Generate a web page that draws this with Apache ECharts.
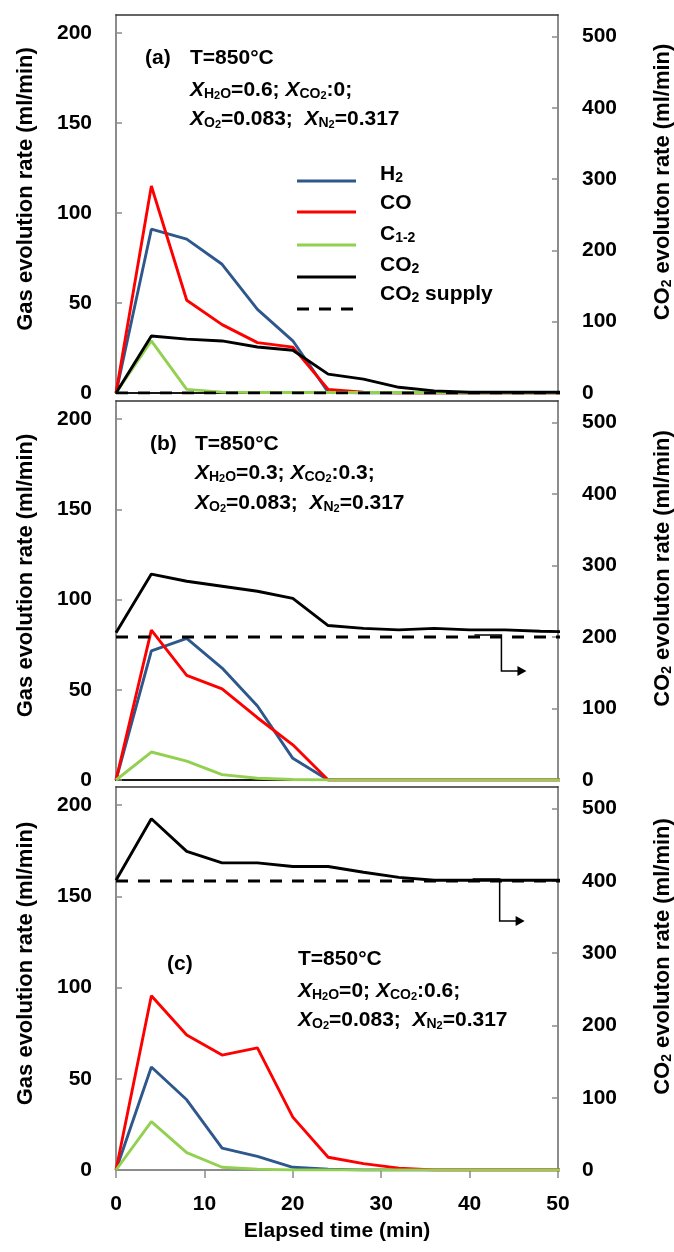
<!DOCTYPE html>
<html><head><meta charset="utf-8">
<script src="https://cdn.jsdelivr.net/npm/echarts@6/dist/echarts.min.js"></script>
<style>html,body{margin:0;padding:0;background:#fff}#c{width:674px;height:1252px}</style>
</head><body><div id="c"></div>
<script>
// ---- data ----
const time = [0, 4, 8, 12, 16, 20, 24, 28, 32, 36, 40, 44, 48, 52];
const xTickLabels = [0, 10, 20, 30, 40, 50];
const seriesNames = ['H2', 'CO', 'C1-2', 'CO2', 'CO2 supply'];

// panel (a)  XH2O=0.6; XCO2=0
const h2A   = [0, 91, 85.5, 71.5, 46.5, 29, 0.5, 0, 0, 0, 0, 0, 0, 0];
const coA   = [0, 115, 51.5, 38, 28, 25.5, 2, 0.5, 0, 0, 0, 0, 0, 0];
const c12A  = [0, 29, 2, 0.5, 0.3, 0.3, 0.3, 0.3, 0.3, 0.3, 0, 0, 0, 0];
const co2A  = [0, 80, 75.5, 73, 64.5, 60, 26.5, 19.5, 8, 3, 1, 1, 1, 1];
const supA  = [0, 0, 0, 0, 0, 0, 0, 0, 0, 0, 0, 0, 0, 0];

// panel (b)  XH2O=0.3; XCO2=0.3
const h2B   = [0, 71.5, 78.5, 62, 41, 12, 0, 0, 0, 0, 0, 0, 0, 0];
const coB   = [0, 83, 58, 50.5, 34.5, 19.5, 0, 0, 0, 0, 0, 0, 0, 0];
const c12B  = [0, 15.5, 10.5, 3, 1, 0.3, 0, 0, 0, 0, 0, 0, 0, 0];
const co2B  = [206, 288, 278, 271, 264, 254, 216, 212, 210, 212, 210, 210, 208, 207];
const supB  = [200, 200, 200, 200, 200, 200, 200, 200, 200, 200, 200, 200, 200, 200];

// panel (c)  XH2O=0; XCO2=0.6
const h2C   = [0, 56.5, 38.5, 12, 7.5, 1.5, 0.5, 0, 0, 0, 0, 0, 0, 0];
const coC   = [0, 95.5, 74, 63, 67, 29, 7, 3.5, 1, 0, 0, 0, 0, 0];
const c12C  = [0, 26.5, 9.5, 1.5, 0.5, 0, 0, 0, 0, 0, 0, 0, 0, 0];
const co2C  = [401, 486, 441, 425, 425, 420, 420, 412, 405, 401, 401, 401, 401, 401];
const supC  = [400, 400, 400, 400, 400, 400, 400, 400, 400, 400, 400, 400, 400, 400];

// ---- styling ----
const F = 'Liberation Sans, Arial, sans-serif';
const COL = {'H2': '#2E578C', 'CO': '#FF0000', 'C1-2': '#92D050', 'CO2': '#000000', 'CO2 supply': '#000000'};
const DASH = [12, 10];
const GREY = '#8C8C8C';
const rich = {
  b: {fontFamily: F, fontSize: 21, fontWeight: 'bold', color: '#000', lineHeight: 26, verticalAlign: 'bottom'},
  i: {fontFamily: F, fontSize: 21, fontWeight: 'bold', fontStyle: 'italic', color: '#000', lineHeight: 26, verticalAlign: 'bottom'},
  s: {fontFamily: F, fontSize: 14, fontWeight: 'bold', color: '#000', lineHeight: 18, verticalAlign: 'bottom'},
  t: {fontFamily: F, fontSize: 11, fontWeight: 'bold', color: '#000', lineHeight: 15, verticalAlign: 'bottom'}
};
const legendText = {
  'H2': '{b|H}{s|2}', 'CO': '{b|CO}', 'C1-2': '{b|C}{s|1-2}', 'CO2': '{b|CO}{s|2}', 'CO2 supply': '{b|CO}{s|2}{b| supply}'
};

const panels = [
  {top: 15, height: 378, data: [h2A, coA, c12A, co2A, supA], xLine: '#1a1a1a'},
  {top: 401, height: 379, data: [h2B, coB, c12B, co2B, supB], xLine: '#1a1a1a'},
  {top: 787, height: 383, data: [h2C, coC, c12C, co2C, supC], xLine: GREY}
];

const grids = [], xAxes = [], yAxes = [], series = [];
panels.forEach((p, k) => {
  grids.push({left: 116, right: 116, top: p.top, height: p.height, outerBoundsMode: 'none', containLabel: false});
  const last = k === 2;
  xAxes.push({
    type: 'value', gridIndex: k, min: 0, max: 50, interval: 10, position: 'bottom',
    axisLine: {show: true, onZero: false, lineStyle: {color: p.xLine, width: 2}},
    axisTick: {show: last, length: 8, lineStyle: {color: GREY, width: 1.5}},
    axisLabel: {show: last, margin: 24, fontFamily: F, fontSize: 21, fontWeight: 'bold', color: '#000',
      formatter: v => xTickLabels.includes(v) ? String(v) : ''},
    splitLine: {show: false},
    name: last ? 'Elapsed time (min)' : '', nameLocation: 'middle', nameGap: 51,
    nameTextStyle: {fontFamily: F, fontSize: 21, fontWeight: 'bold', color: '#000'}
  });
  yAxes.push({
    type: 'value', gridIndex: k, min: 0, max: 210, interval: 50, position: 'left',
    axisLine: {show: true, onZero: false, lineStyle: {color: GREY, width: 2}},
    axisTick: {show: true, inside: true, length: 6, lineStyle: {color: GREY, width: 1.5}},
    axisLabel: {margin: 24, showMaxLabel: false, fontFamily: F, fontSize: 21, fontWeight: 'bold', color: '#000'},
    splitLine: {show: false},
    name: 'Gas evolution rate (ml/min)', nameLocation: 'middle', nameGap: 79,
    nameTextStyle: {fontFamily: F, fontSize: 22, fontWeight: 'bold', color: '#000', padding: [0, 0, 0, 30]}
  });
  yAxes.push({
    type: 'value', gridIndex: k, min: 0, max: 530, interval: 100, position: 'right',
    axisLine: {show: true, onZero: false, lineStyle: {color: GREY, width: 2}},
    axisTick: {show: true, inside: true, length: 6, lineStyle: {color: GREY, width: 1.5}},
    axisLabel: {margin: 24, showMaxLabel: false, fontFamily: F, fontSize: 21, fontWeight: 'bold', color: '#000'},
    splitLine: {show: false},
    name: '{n|CO}{s|2}{n| evoluton rate (ml/min)}', nameLocation: 'middle', nameGap: 90,
    nameTextStyle: {padding: [0, 0, 0, 44], rich: {
      n: {fontFamily: F, fontSize: 22, fontWeight: 'bold', color: '#000', lineHeight: 26, verticalAlign: 'bottom'},
      s: {fontFamily: F, fontSize: 14, fontWeight: 'bold', color: '#000', lineHeight: 18, verticalAlign: 'bottom'}}}
  });
  seriesNames.forEach((nm, j) => {
    const right = j >= 3;
    series.push({
      type: 'line', name: nm, xAxisIndex: k, yAxisIndex: k * 2 + (right ? 1 : 0),
      data: time.map((t, i) => [t, p.data[j][i]]),
      symbol: 'none', showSymbol: false, clip: true, z: 2 + j,
      lineStyle: {color: COL[nm], width: 2.9, type: nm === 'CO2 supply' ? DASH : 'solid'},
      itemStyle: {color: COL[nm]}
    });
  });
});
// top border of each plot
panels.forEach((p, k) => {
  xAxes.push({type: 'value', gridIndex: k, min: 0, max: 50, position: 'top',
    axisLine: {show: true, onZero: false, lineStyle: {color: '#333', width: 1.5}},
    axisTick: {show: false}, axisLabel: {show: false}, splitLine: {show: false}});
});

const chart = echarts.init(document.getElementById('c'), null, {renderer: 'canvas'});
chart.setOption({
  animation: false,
  backgroundColor: '#fff',
  grid: grids, xAxis: xAxes, yAxis: yAxes, series: series
});

// annotations
function txt(x, y, s) {
  return {type: 'text', x: x, y: y, z: 50, style: {text: s, rich: rich, verticalAlign: 'middle', align: 'left'}};
}
const l2 = (h, c) => '{i|X}{s|H}{t|2}{s|O}{b|=' + h + '; }{i|X}{s|CO}{t|2}{b|:' + c + ';}';
const l3 = '{i|X}{s|O}{t|2}{b|=0.083;  }{i|X}{s|N}{t|2}{b|=0.317}';
const g = [
  txt(145, 56, '{b|(a)}'), txt(190, 56, '{b|T=850°C}'), txt(190, 88, l2('0.6', '0')), txt(190, 117, l3),
  txt(150, 442, '{b|(b)}'), txt(195, 442, '{b|T=850°C}'), txt(195, 471, l2('0.3', '0.3')), txt(195, 501, l3),
  txt(167, 962, '{b|(c)}'), txt(298, 957, '{b|T=850°C}'), txt(298, 989, l2('0', '0.6')), txt(298, 1018, l3)
];
// legend (panel a): line samples and labels
const legLineY = [181, 212, 245, 277, 309];
const legTextY = [172, 201, 232, 263, 292];
seriesNames.forEach((nm, j) => {
  g.push({type: 'line', z: 50, shape: {x1: 297, y1: legLineY[j], x2: 356, y2: legLineY[j]},
    style: {stroke: COL[nm], lineWidth: 2.9, lineDash: nm === 'CO2 supply' ? DASH : null}});
  g.push(txt(380, legTextY[j], legendText[nm]));
});
// arrows pointing to the right axis
function arrow(xi, yi, xv, yv, down) {
  const P = chart.convertToPixel({xAxisIndex: xi, yAxisIndex: yi}, [xv, yv]);
  const x = P[0], y = P[1] - 2;
  g.push({type: 'polyline', z: 50, shape: {points: [[x - 27, y], [x, y], [x, y + down], [x + 18, y + down]]},
    style: {stroke: '#000', lineWidth: 1.5, fill: null}});
  g.push({type: 'polygon', z: 50, shape: {points: [[x + 16, y + down - 5], [x + 25, y + down], [x + 16, y + down + 5]]},
    style: {fill: '#000'}});
}
arrow(1, 3, 43.6, 200, 36);
arrow(2, 5, 43.4, 400, 42);
chart.setOption({graphic: g});
</script></body></html>
